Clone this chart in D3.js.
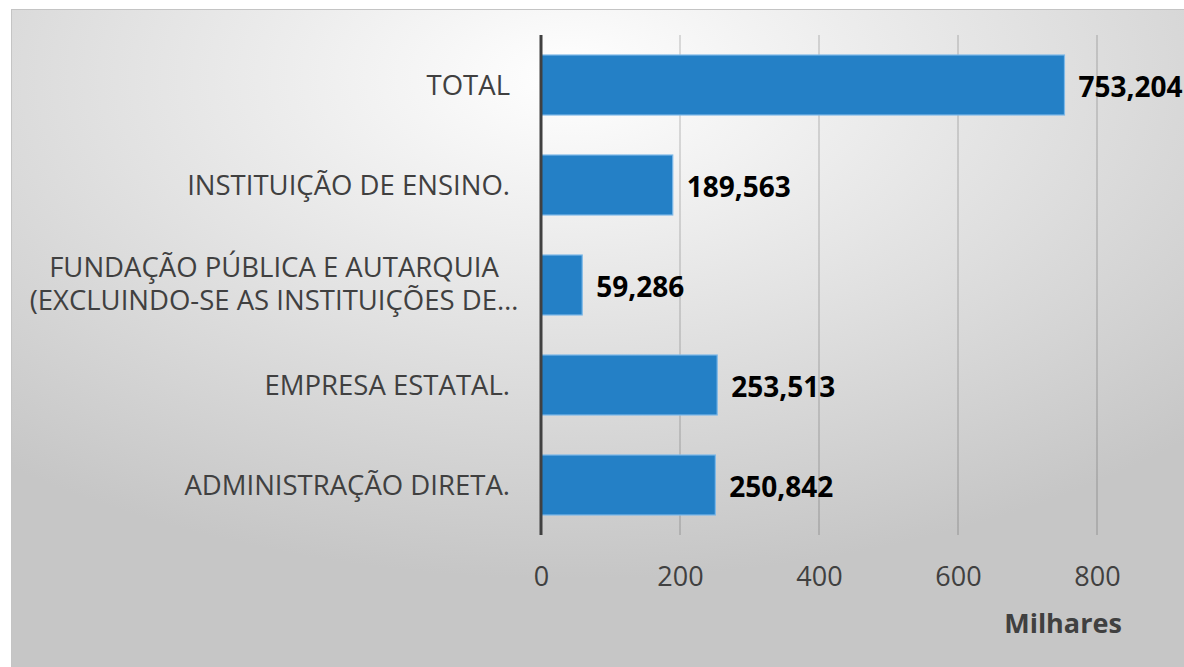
<!DOCTYPE html>
<html>
<head>
<meta charset="utf-8">
<script src="https://cdn.jsdelivr.net/npm/d3@7"></script>
<style>
  html, body { margin: 0; padding: 0; background: #fff; overflow: hidden; }
  svg { display: block; }
</style>
</head>
<body>
<div id="chart"></div>
<script>
// dados (milhares)
const categories = [
  "TOTAL",
  "INSTITUIÇÃO DE ENSINO.",
  "FUNDAÇÃO PÚBLICA E AUTARQUIA (EXCLUINDO-SE AS INSTITUIÇÕES DE…",
  "EMPRESA ESTATAL.",
  "ADMINISTRAÇÃO DIRETA."
];
const values = [753.204, 189.563, 59.286, 253.513, 250.842];
const valueLabels = ["753,204", "189,563", "59,286", "253,513", "250,842"];
const tickValues = [0, 200, 400, 600, 800];
const axisTitle = "Milhares";

const width = 1184, height = 667;
const margin = { left: 541, right: 87, top: 35, bottom: 132 };

const svg = d3.select("#chart").append("svg")
  .attr("width", width)
  .attr("height", height);

// fundo com gradiente radial
const defs = svg.append("defs");
const grad = defs.append("radialGradient")
  .attr("id", "bg")
  .attr("cx", "0.47").attr("cy", "0.1")
  .attr("r", "0.75")
  .attr("fx", "0.47").attr("fy", "0.1");
grad.append("stop").attr("offset", "0%").attr("stop-color", "#ffffff");
grad.append("stop").attr("offset", "100%").attr("stop-color", "#c6c6c6");

svg.append("rect")
  .attr("x", 11.5).attr("y", 9.5)
  .attr("width", 1190).attr("height", 670)
  .attr("fill", "url(#bg)")
  .attr("stroke", "#c4c4c4")
  .attr("stroke-width", 1);

const x = d3.scaleLinear()
  .domain([0, 800])
  .range([margin.left, width - margin.right]);

const y = d3.scaleBand()
  .domain(categories)
  .range([margin.top, height - margin.bottom])
  .paddingInner(0.4)
  .paddingOuter(0.2);

// linhas de grade
svg.append("g")
  .selectAll("line")
  .data(tickValues.slice(1))
  .join("line")
  .attr("x1", d => x(d)).attr("x2", d => x(d))
  .attr("y1", margin.top).attr("y2", height - margin.bottom)
  .attr("stroke", "#000")
  .attr("stroke-opacity", 0.17)
  .attr("stroke-width", 1.5);

// barras
svg.append("g")
  .selectAll("rect")
  .data(values)
  .join("rect")
  .attr("x", x(0))
  .attr("y", (d, i) => y(categories[i]))
  .attr("width", d => x(d) - x(0))
  .attr("height", y.bandwidth())
  .attr("fill", "#2480c6")
  .attr("stroke", "#7db8e8")
  .attr("stroke-width", 1.2);

// eixo vertical
svg.append("line")
  .attr("x1", x(0)).attr("x2", x(0))
  .attr("y1", margin.top).attr("y2", height - margin.bottom)
  .attr("stroke", "#404040")
  .attr("stroke-width", 3);

// rótulos das categorias
const catG = svg.append("g")
  .attr("font-family", "'Open Sans', sans-serif")
  .attr("font-size", 27.5)
  .attr("fill", "#404040");

categories.forEach((c, i) => {
  const cy = y(c) + y.bandwidth() / 2;
  if (i === 2) {
    const lines = ["FUNDAÇÃO PÚBLICA E AUTARQUIA", "(EXCLUINDO-SE AS INSTITUIÇÕES DE…"];
    lines.forEach((ln, j) => {
      catG.append("text")
        .attr("x", 274)
        .attr("y", cy + (j - 0.5) * 33 - 1)
        .attr("dy", "0.35em")
        .attr("text-anchor", "middle")
        .text(ln);
    });
  } else {
    catG.append("text")
      .attr("x", 510)
      .attr("y", cy)
      .attr("dy", "0.35em")
      .attr("text-anchor", "end")
      .text(c);
  }
});

// rótulos de valores
svg.append("g")
  .selectAll("text")
  .data(values)
  .join("text")
  .attr("x", d => x(d) + 14)
  .attr("y", (d, i) => y(categories[i]) + y.bandwidth() / 2 + 2)
  .attr("dy", "0.35em")
  .attr("font-family", "'Open Sans', sans-serif")
  .attr("font-weight", "bold")
  .attr("font-size", 28)
  .attr("fill", "#000")
  .text((d, i) => valueLabels[i]);

// eixo x
const xAxis = svg.append("g")
  .attr("transform", `translate(0,${height - margin.bottom})`)
  .call(d3.axisBottom(x).tickValues(tickValues).tickSize(0).tickPadding(32));
xAxis.select(".domain").remove();
xAxis.selectAll("text")
  .attr("font-family", "'Open Sans', sans-serif")
  .attr("font-size", 27)
  .attr("fill", "#404040");

svg.append("text")
  .attr("x", 1063)
  .attr("y", 624)
  .attr("dy", "0.35em")
  .attr("text-anchor", "middle")
  .attr("font-family", "'Open Sans', sans-serif")
  .attr("font-weight", "bold")
  .attr("font-size", 27)
  .attr("fill", "#404040")
  .text(axisTitle);
</script>
</body>
</html>
